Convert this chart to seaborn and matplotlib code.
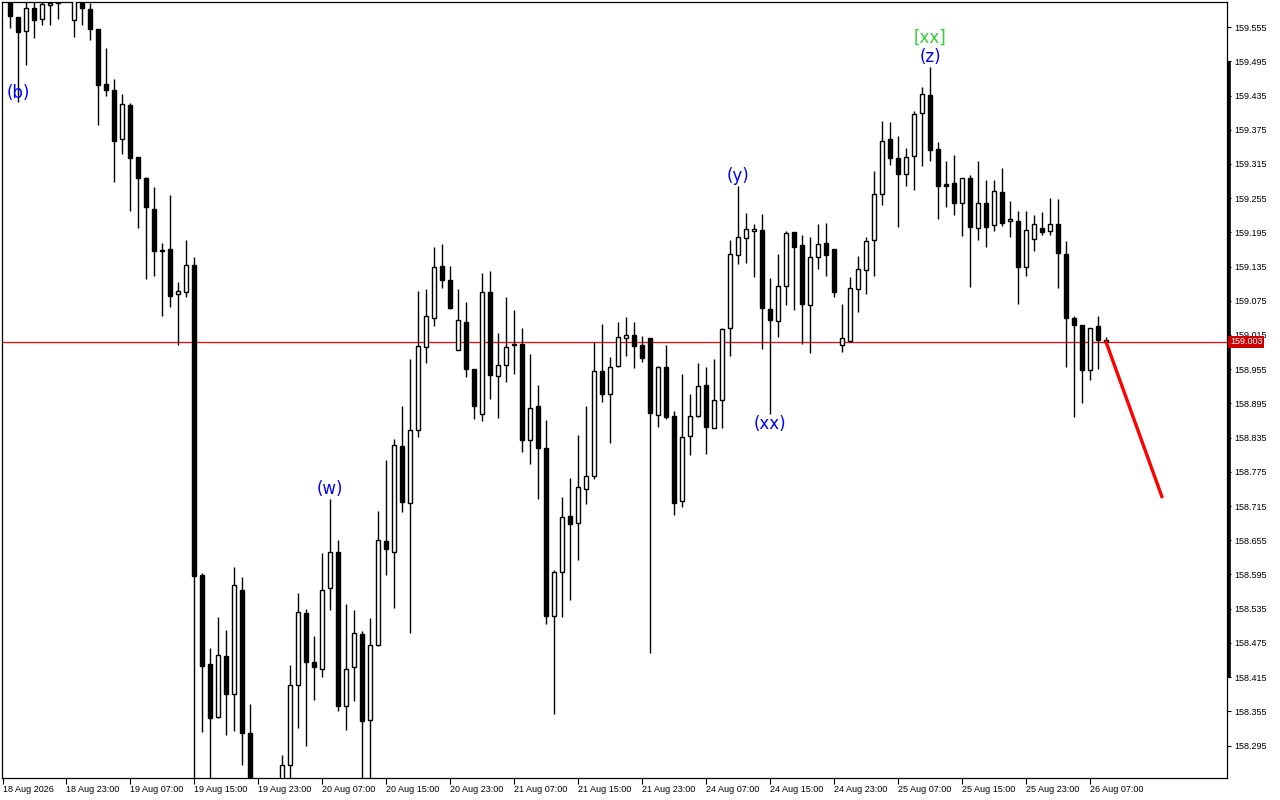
import numpy as np
import pandas as pd
import matplotlib
matplotlib.use("Agg")
import matplotlib.pyplot as plt
import seaborn as sns
from matplotlib.transforms import blended_transform_factory

# ---------------- data (hourly candles) ----------------
opens = [
    159.612, 159.573, 159.549, 159.588, 159.569, 159.594, 159.599, 159.610, 159.568, 159.598,
    159.587, 159.552, 159.456, 159.445, 159.359, 159.419, 159.328, 159.291, 159.236, 159.164,
    159.165, 159.086, 159.090, 159.137, 158.594, 158.438, 158.345, 158.452, 158.385, 158.567,
    158.317, 158.220, 158.180, 158.200, 158.230, 158.260, 158.401, 158.527, 158.441, 158.430,
    158.571, 158.634, 158.364, 158.432, 158.490, 158.340, 158.471, 158.654, 158.635, 158.820,
    158.721, 158.848, 158.994, 159.045, 159.136, 159.111, 158.989, 159.038, 158.956, 158.877,
    159.091, 158.943, 158.962, 158.999, 158.999, 158.831, 158.890, 158.817, 158.523, 158.599,
    158.697, 158.685, 158.744, 158.767, 158.952, 158.911, 158.960, 159.010, 159.015, 158.998,
    159.010, 158.875, 158.959, 158.873, 158.723, 158.838, 158.873, 158.927, 158.852, 158.901,
    159.027, 159.155, 159.185, 159.197, 159.199, 159.060, 159.039, 159.101, 159.196, 159.172,
    159.067, 159.152, 159.176, 159.166, 158.997, 159.005, 159.096, 159.129, 159.181, 159.262,
    159.359, 159.326, 159.297, 159.329, 159.404, 159.436, 159.342, 159.279, 159.281, 159.246,
    159.290, 159.203, 159.247, 159.208, 159.266, 159.215, 159.215, 159.134, 159.183, 159.203,
    159.197, 159.210, 159.157, 159.045, 159.033, 158.953, 159.031, 159.006,
]
highs = [
    159.625, 159.573, 159.600, 159.600, 159.605, 159.610, 159.610, 159.630, 159.615, 159.605,
    159.598, 159.552, 159.519, 159.464, 159.438, 159.421, 159.328, 159.292, 159.275, 159.177,
    159.261, 159.108, 159.182, 159.151, 158.597, 158.466, 158.520, 158.498, 158.608, 158.591,
    158.367, 158.235, 158.230, 158.232, 158.279, 158.436, 158.562, 158.534, 158.487, 158.632,
    158.727, 158.655, 158.543, 158.533, 158.495, 158.518, 158.707, 158.796, 158.832, 158.890,
    158.973, 159.093, 159.096, 159.169, 159.175, 159.136, 159.096, 159.073, 158.956, 159.124,
    159.128, 159.018, 159.082, 159.059, 159.027, 158.982, 158.928, 158.866, 158.603, 158.731,
    158.765, 158.840, 158.891, 159.003, 159.035, 158.976, 159.038, 159.047, 159.038, 159.014,
    159.010, 158.961, 158.998, 158.882, 158.947, 158.912, 158.966, 158.959, 158.972, 159.027,
    159.182, 159.277, 159.229, 159.210, 159.228, 159.115, 159.157, 159.197, 159.196, 159.191,
    159.187, 159.210, 159.212, 159.166, 159.070, 159.117, 159.153, 159.187, 159.303, 159.391,
    159.389, 159.364, 159.343, 159.407, 159.450, 159.485, 159.354, 159.321, 159.331, 159.291,
    159.296, 159.321, 159.286, 159.287, 159.308, 159.250, 159.233, 159.233, 159.225, 159.230,
    159.255, 159.254, 159.179, 159.048, 159.033, 159.028, 159.049, 159.011,
]
lows = [
    159.554, 159.423, 159.488, 159.535, 159.558, 159.558, 159.570, 159.602, 159.537, 159.559,
    159.533, 159.384, 159.435, 159.284, 159.333, 159.233, 159.202, 159.113, 159.119, 159.049,
    159.064, 158.998, 159.081, 158.230, 158.319, 158.225, 158.344, 158.314, 158.321, 158.260,
    158.200, 158.150, 158.140, 158.160, 158.200, 158.220, 158.326, 158.294, 158.374, 158.415,
    158.532, 158.356, 158.323, 158.373, 158.225, 158.228, 158.470, 158.594, 158.537, 158.704,
    158.492, 158.836, 158.966, 159.030, 159.098, 159.061, 158.988, 158.942, 158.867, 158.865,
    158.902, 158.869, 158.933, 158.947, 158.809, 158.789, 158.728, 158.508, 158.350, 158.520,
    158.550, 158.620, 158.718, 158.763, 158.897, 158.825, 158.959, 158.979, 158.957, 158.968,
    158.457, 158.853, 158.868, 158.700, 158.713, 158.804, 158.871, 158.807, 158.851, 158.851,
    158.979, 159.140, 159.142, 159.116, 158.990, 158.877, 159.012, 159.067, 159.059, 158.999,
    158.984, 159.131, 159.119, 159.081, 158.986, 159.002, 159.055, 159.086, 159.119, 159.243,
    159.313, 159.205, 159.276, 159.269, 159.311, 159.321, 159.218, 159.239, 159.226, 159.188,
    159.100, 159.181, 159.169, 159.198, 159.207, 159.186, 159.070, 159.119, 159.162, 159.191,
    159.191, 159.097, 158.958, 158.872, 158.896, 158.936, 158.956, 159.002,
]
closes = [
    159.574, 159.547, 159.588, 159.568, 159.595, 159.598, 159.597, 159.618, 159.606, 159.588,
    159.551, 159.454, 159.445, 159.356, 159.420, 159.325, 159.291, 159.239, 159.163, 159.162,
    159.083, 159.093, 159.138, 158.593, 158.435, 158.344, 158.453, 158.385, 158.576, 158.317,
    158.220, 158.180, 158.200, 158.220, 158.260, 158.401, 158.529, 158.441, 158.432, 158.567,
    158.634, 158.364, 158.430, 158.492, 158.338, 158.471, 158.656, 158.639, 158.822, 158.722,
    158.848, 158.995, 159.048, 159.134, 159.111, 159.062, 159.041, 158.955, 158.890, 159.090,
    158.944, 158.962, 158.994, 158.997, 158.831, 158.887, 158.816, 158.523, 158.599, 158.696,
    158.684, 158.748, 158.768, 158.952, 158.911, 158.959, 159.011, 159.015, 158.996, 158.975,
    158.879, 158.959, 158.872, 158.721, 158.836, 158.873, 158.925, 158.854, 158.901, 159.025,
    159.157, 159.187, 159.201, 159.201, 159.062, 159.041, 159.101, 159.194, 159.170, 159.069,
    159.152, 159.174, 159.156, 159.091, 159.010, 159.097, 159.131, 159.180, 159.262, 159.356,
    159.325, 159.297, 159.327, 159.403, 159.438, 159.339, 159.276, 159.276, 159.246, 159.290,
    159.204, 159.247, 159.205, 159.267, 159.212, 159.218, 159.135, 159.199, 159.210, 159.195,
    159.210, 159.158, 159.045, 159.032, 158.954, 159.027, 159.007, 159.003,
]

time_labels = ["18 Aug 23:00", "19 Aug 07:00", "19 Aug 15:00", "19 Aug 23:00",
               "20 Aug 07:00", "20 Aug 15:00", "20 Aug 23:00", "21 Aug 07:00",
               "21 Aug 15:00", "21 Aug 23:00", "24 Aug 07:00", "24 Aug 15:00",
               "24 Aug 23:00", "25 Aug 07:00", "25 Aug 15:00", "25 Aug 23:00",
               "26 Aug 07:00"]
time_label_bars = [7, 15, 23, 31, 39, 47, 55, 63, 71, 79, 87, 95, 103, 111, 119, 127, 135]
first_label = "18 Aug 2026"

price_ticks = [159.555, 159.495, 159.435, 159.375, 159.315, 159.255, 159.195, 159.135,
               159.075, 159.015, 158.955, 158.895, 158.835, 158.775, 158.715, 158.655,
               158.595, 158.535, 158.475, 158.415, 158.355, 158.295]

last_price = 159.003
forecast_bars = [137, 144]
forecast_prices = [159.003, 158.731]

wave_labels = ["(b)", "(w)", "(y)", "(xx)", "(z)", "[xx]"]
wave_bars = [1, 40, 91, 95, 115, 115]
wave_side = ["low", "high", "high", "low", "high", "high"]
wave_colors = ["#0000ff", "#0000ff", "#0000ff", "#0000ff", "#0000ff", "#33cc33"]

scale_bar = [158.415, 159.495]

# ---------------- figure ----------------
sns.set_style("white")
plt.rcParams["font.family"] = ["DejaVu Sans"]

df = pd.DataFrame({"open": opens, "high": highs, "low": lows, "close": closes})
df["bar"] = np.arange(len(df))

fig = plt.figure(figsize=(12.8, 8), dpi=100)
ax = fig.add_axes([2 / 1280, 22 / 800, 1225 / 1280, 776 / 800])

# wicks
ax.vlines(df["bar"], df["low"], df["high"], color="black", lw=1.0, zorder=2)
# bodies
up = df["close"] >= df["open"]
bottoms = np.minimum(df["open"], df["close"])
heights = np.abs(df["close"] - df["open"])
ax.bar(df["bar"][up], heights[up], bottom=bottoms[up], width=0.6,
       color="white", edgecolor="black", linewidth=1.0, zorder=3)
ax.bar(df["bar"][~up], heights[~up], bottom=bottoms[~up], width=0.6,
       color="black", edgecolor="black", linewidth=1.0, zorder=3)

# last price line
ax.axhline(last_price, color="#ff0000", lw=0.9, zorder=1)

# forecast line
fc = pd.DataFrame({"bar": forecast_bars, "price": forecast_prices})
sns.lineplot(data=fc, x="bar", y="price", color="#ff0000", lw=2.4, ax=ax,
             legend=False, zorder=4)

# wave labels
for lab, b, side, col in zip(wave_labels, wave_bars, wave_side, wave_colors):
    if lab == "(b)":
        ax.annotate(lab, (b, lows[b]), xytext=(0, 7), textcoords="offset points",
                    ha="center", va="center", color=col, fontsize=12, zorder=5)
    elif side == "low":
        ax.annotate(lab, (b, lows[b]), xytext=(0, -1), textcoords="offset points",
                    ha="center", va="top", color=col, fontsize=12, zorder=5)
    elif lab == "[xx]":
        ax.annotate(lab, (b, highs[b]), xytext=(0, 14.5), textcoords="offset points",
                    ha="center", va="bottom", color=col, fontsize=12, zorder=5)
    else:
        ax.annotate(lab, (b, highs[b]), xytext=(0, 0.5), textcoords="offset points",
                    ha="center", va="bottom", color=col, fontsize=12, zorder=5)

ax.set_xlim(-1, 152.125)
ax.set_ylim(158.238, 159.599)

# right price axis
ax.yaxis.tick_right()
ax.set_yticks(price_ticks)
ax.set_yticklabels([f"{v:.3f}" for v in price_ticks])
ax.tick_params(axis="y", which="both", direction="out", length=3, width=0.8,
               pad=2, labelsize=6.5, colors="black", right=True, left=False)
for t in ax.get_yticklabels():
    t.set_fontfamily("Liberation Sans")

# bottom time axis
ax.set_xticks([ax.get_xlim()[0] + 0.125] + time_label_bars)
ax.set_xticklabels([first_label] + time_labels, ha="left")
ax.tick_params(axis="x", direction="out", length=4, width=0.8, pad=1,
               labelsize=6.5, colors="black", bottom=True)
for t in ax.get_xticklabels():
    t.set_fontfamily("Liberation Sans")

ax.set_xlabel("")
ax.set_ylabel("")
for s in ax.spines.values():
    s.set_color("black")
    s.set_linewidth(0.9)
    s.set_visible(True)

# price scale thick bar
trans = blended_transform_factory(ax.transAxes, ax.transData)
ax.plot([1.0015, 1.0015], scale_bar, color="black", lw=2.6, transform=trans,
        clip_on=False, solid_capstyle="butt", zorder=6)

# last price box
ax.text(1.0025, last_price, f"{last_price:.3f}", transform=trans, ha="left", va="center",
        color="white", fontsize=6.5, family="Liberation Sans", zorder=7, clip_on=False,
        bbox=dict(boxstyle="square,pad=0.2", fc="#cc0000", ec="none"))

fig.savefig("out.png", dpi=100)
